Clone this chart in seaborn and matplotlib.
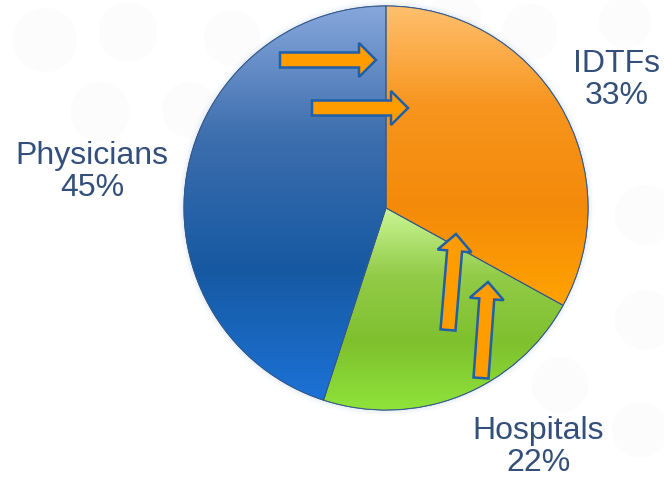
import numpy as np
import matplotlib
matplotlib.use("Agg")
import matplotlib.pyplot as plt
from matplotlib.colors import LinearSegmentedColormap
from matplotlib.patches import FancyArrow, Circle, Wedge
import seaborn as sns

labels = ["IDTFs", "Hospitals", "Physicians"]
shares = [33, 22, 45]
# vertical gradient stops (top -> bottom of each slice)
grad_colors = {
    "IDTFs": ["#ffc06e", "#f7951e", "#f48a0a", "#ffa200"],
    "Hospitals": ["#cbf594", "#92cb48", "#7fc02e", "#8ee43a"],
    "Physicians": ["#87a7dc", "#3d6eae", "#1659a2", "#1c72d6"],
}
label_pos = {"IDTFs": (617, 80), "Hospitals": (538, 447), "Physicians": (92, 172)}

sns.set_theme(style="white")
plt.rcParams["font.family"] = ["Liberation Sans", "DejaVu Sans"]

fig = plt.figure(figsize=(6.64, 4.79), dpi=100)
ax = fig.add_axes([0, 0, 1, 1])

# faint background bubbles
bubbles = [(45, 40, 32), (128, 32, 30), (232, 38, 28), (100, 112, 30), (190, 110, 28),
           (455, 18, 26), (530, 32, 28), (625, 22, 26), (645, 215, 30), (645, 320, 30),
           (560, 385, 28), (640, 430, 28)]
for bx, by, br in bubbles:
    ax.add_patch(Circle((bx, by), br, color="#fcfcfd", zorder=0, lw=0))

cx, cy, r = 386, 208, 202
# soft glow
for k, a in enumerate([0.04, 0.07, 0.10]):
    ax.add_patch(Circle((cx, cy), r + 6 - 2 * k, color="#9db8e0", alpha=a, lw=0, zorder=1))

# y axis is inverted below, so counterclock in data = clockwise on screen
wedges, _ = ax.pie(shares, startangle=-90, counterclock=True, center=(cx, cy), radius=r,
                   colors=[grad_colors[l][1] for l in labels],
                   wedgeprops=dict(edgecolor="#3a5f8f", linewidth=0.8, zorder=2),
                   frame=True)
ax.set_xlim(0, 664)
ax.set_ylim(479, 0)
ax.set_aspect("equal")
ax.axis("off")

grad = np.linspace(0, 1, 256).reshape(-1, 1)
for w, lab in zip(wedges, labels):
    cmap = LinearSegmentedColormap.from_list(lab, grad_colors[lab])
    bb = w.get_patch_transform().transform_path(w.get_path()).get_extents()
    im = ax.imshow(grad, cmap=cmap, aspect="auto",
                   extent=(bb.x0, bb.x1, bb.y1, bb.y0), zorder=3, interpolation="bicubic")
    im.set_clip_path(w)
    ax.add_patch(Wedge((cx, cy), r, w.theta1, w.theta2, fill=False,
                       edgecolor="#35598a", lw=0.7, zorder=4))

ax.set_xlim(0, 664)
ax.set_ylim(479, 0)

for lab, pct in zip(labels, shares):
    x, y = label_pos[lab]
    ax.text(x, y, f"{lab}\n{pct}%", ha="center", va="center", fontsize=23,
            color="#34507a", linespacing=1.05, zorder=6)

# orange arrows (tail x, tail y, dx, dy)
arrows = [(280, 60, 96, 0), (312, 108, 96, 0), (448, 330, 8, -96), (481, 378, 7, -96)]
for x, y, dx, dy in arrows:
    ax.add_patch(FancyArrow(x, y, dx, dy, width=15, head_width=34, head_length=17,
                            length_includes_head=True, facecolor="#ff9c00",
                            edgecolor="#1f60a8", lw=1.8, zorder=7))

fig.savefig("out.png", dpi=100)
